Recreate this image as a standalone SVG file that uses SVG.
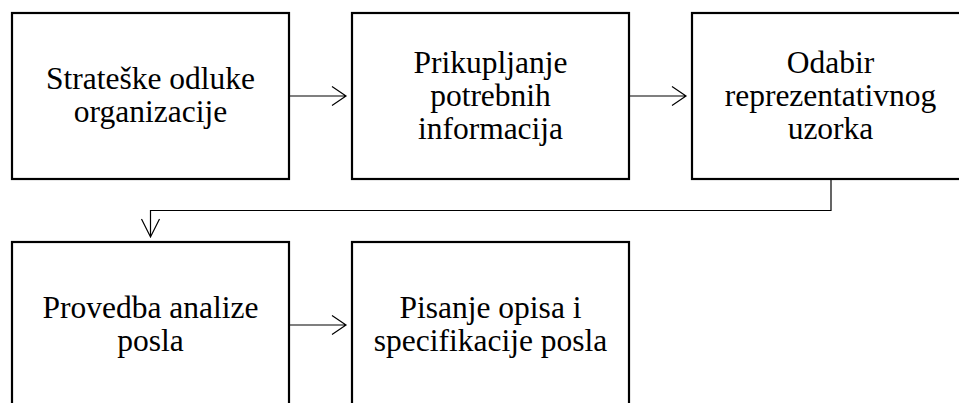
<svg xmlns="http://www.w3.org/2000/svg" width="959" height="403" viewBox="0 0 959 403">
<style>
.box{fill:#fff;stroke:#000;stroke-width:2.2}
.t{font-family:"Liberation Serif","Times New Roman",serif;font-size:31.5px;fill:#000;text-anchor:middle}
.c{fill:none;stroke:#000;stroke-width:1.2}
</style>
<rect width="959" height="403" fill="#fff"/>
<g id="n1"><rect class="box" x="12" y="13" width="277" height="166"/>
<text class="t" x="150.5" y="89">Strateške odluke</text><text class="t" x="150.5" y="122">organizacije</text></g>
<g id="n2"><rect class="box" x="352" y="13" width="277" height="166"/>
<text class="t" x="490.5" y="73">Prikupljanje</text><text class="t" x="490.5" y="106">potrebnih</text><text class="t" x="490.5" y="139">informacija</text></g>
<g id="n3"><rect class="box" x="692" y="13" width="277" height="166"/>
<text class="t" x="830.5" y="73">Odabir</text><text class="t" x="830.5" y="106">reprezentativnog</text><text class="t" x="830.5" y="139">uzorka</text></g>
<g id="n4"><rect class="box" x="12" y="242" width="277" height="166"/>
<text class="t" x="150.5" y="318">Provedba analize</text><text class="t" x="150.5" y="351">posla</text></g>
<g id="n5"><rect class="box" x="352" y="242" width="277" height="166"/>
<text class="t" x="490.5" y="318">Pisanje opisa i</text><text class="t" x="490.5" y="351">specifikacije posla</text></g>
<g id="connectors">
<path class="c" d="M289 96H346M332 86.5L346 96L332 105.5"/>
<path class="c" d="M629 96H686M672 86.5L686 96L672 105.5"/>
<path class="c" d="M831 179V210.5H150.5V237M141.5 219L150.5 237L159.5 219"/>
<path class="c" d="M289 325H346M332 315.5L346 325L332 334.5"/>
</g>
</svg>
